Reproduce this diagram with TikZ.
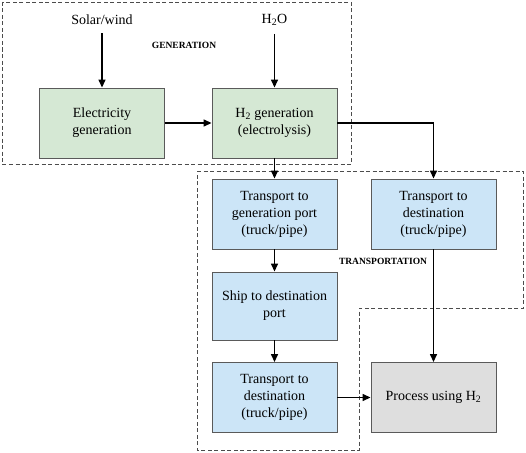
\documentclass[tikz,border=0pt]{standalone}
\usepackage{fontspec}
\setmainfont{Liberation Serif}
\usetikzlibrary{arrows.meta}
\definecolor{gfill}{RGB}{213,232,212}
\definecolor{bfill}{RGB}{204,229,247}
\definecolor{pfill}{RGB}{222,222,222}
\definecolor{edge}{RGB}{90,90,90}
\begin{document}
\begin{tikzpicture}[x=1pt,y=-1pt,
  box/.style={draw=edge, line width=0.9pt, minimum width=125pt, minimum height=70pt,
    align=center, inner sep=0pt, font=\fontsize{14}{17}\selectfont},
  gbox/.style={box, fill=gfill},
  bbox/.style={box, fill=bfill},
  pbox/.style={box, fill=pfill},
  src/.style={font=\fontsize{14}{17}\selectfont, inner xsep=2pt, inner ysep=8pt},
  conn/.style={line width=1.4pt, -{Triangle[length=8pt,width=7pt]}},
  plainconn/.style={line width=1.4pt},
  region/.style={draw=black!70, line width=0.8pt, dash pattern=on 4pt off 2.5pt},
  lbl/.style={font=\fontsize{9.5}{11}\selectfont\bfseries, inner sep=0pt}]
\useasboundingbox (0,0) rectangle (526,452);
% regions
\draw[region] (2,2) rectangle (351,164);
\draw[region] (197,171) -- (523,171) -- (523,308) -- (359,308) -- (359,450) -- (197,450) -- cycle;
\node[lbl] (genlbl) at (184,45) {GENERATION};
\node[lbl] (trlbl) at (383,261) {TRANSPORTATION};
% nodes
\node[src] (solar) at (102,20) {Solar/wind};
\node[src] (water) at (274.5,20) {H\textsubscript{2}O};
\node[gbox] (elec) at (102,123) {Electricity\\generation};
\node[gbox] (h2) at (274.5,123) {H\textsubscript{2} generation\\(electrolysis)};
\node[bbox] (tgp) at (274.5,214) {Transport to\\generation port\\(truck/pipe)};
\node[bbox] (tdr) at (433.5,214) {Transport to\\destination\\(truck/pipe)};
\node[bbox, minimum height=68pt] (ship) at (274.5,306) {Ship to destination\\port};
\node[bbox] (tdb) at (274.5,397.5) {Transport to\\destination\\(truck/pipe)};
\node[pbox] (proc) at (433.5,397.5) {Process using H\textsubscript{2}};
% connectors
\draw[conn] (solar) -- (elec);
\draw[conn] (water) -- (h2);
\draw[conn] (elec) -- (h2);
\draw[conn] (h2.east) -| (tdr.north);
\draw[conn] (h2) -- (tgp);
\draw[conn] (tgp) -- (ship);
\draw[conn] (ship) -- (tdb);
\draw[conn] (tdb) -- (proc);
\draw[conn] (tdr) -- (proc);
\end{tikzpicture}
\end{document}
